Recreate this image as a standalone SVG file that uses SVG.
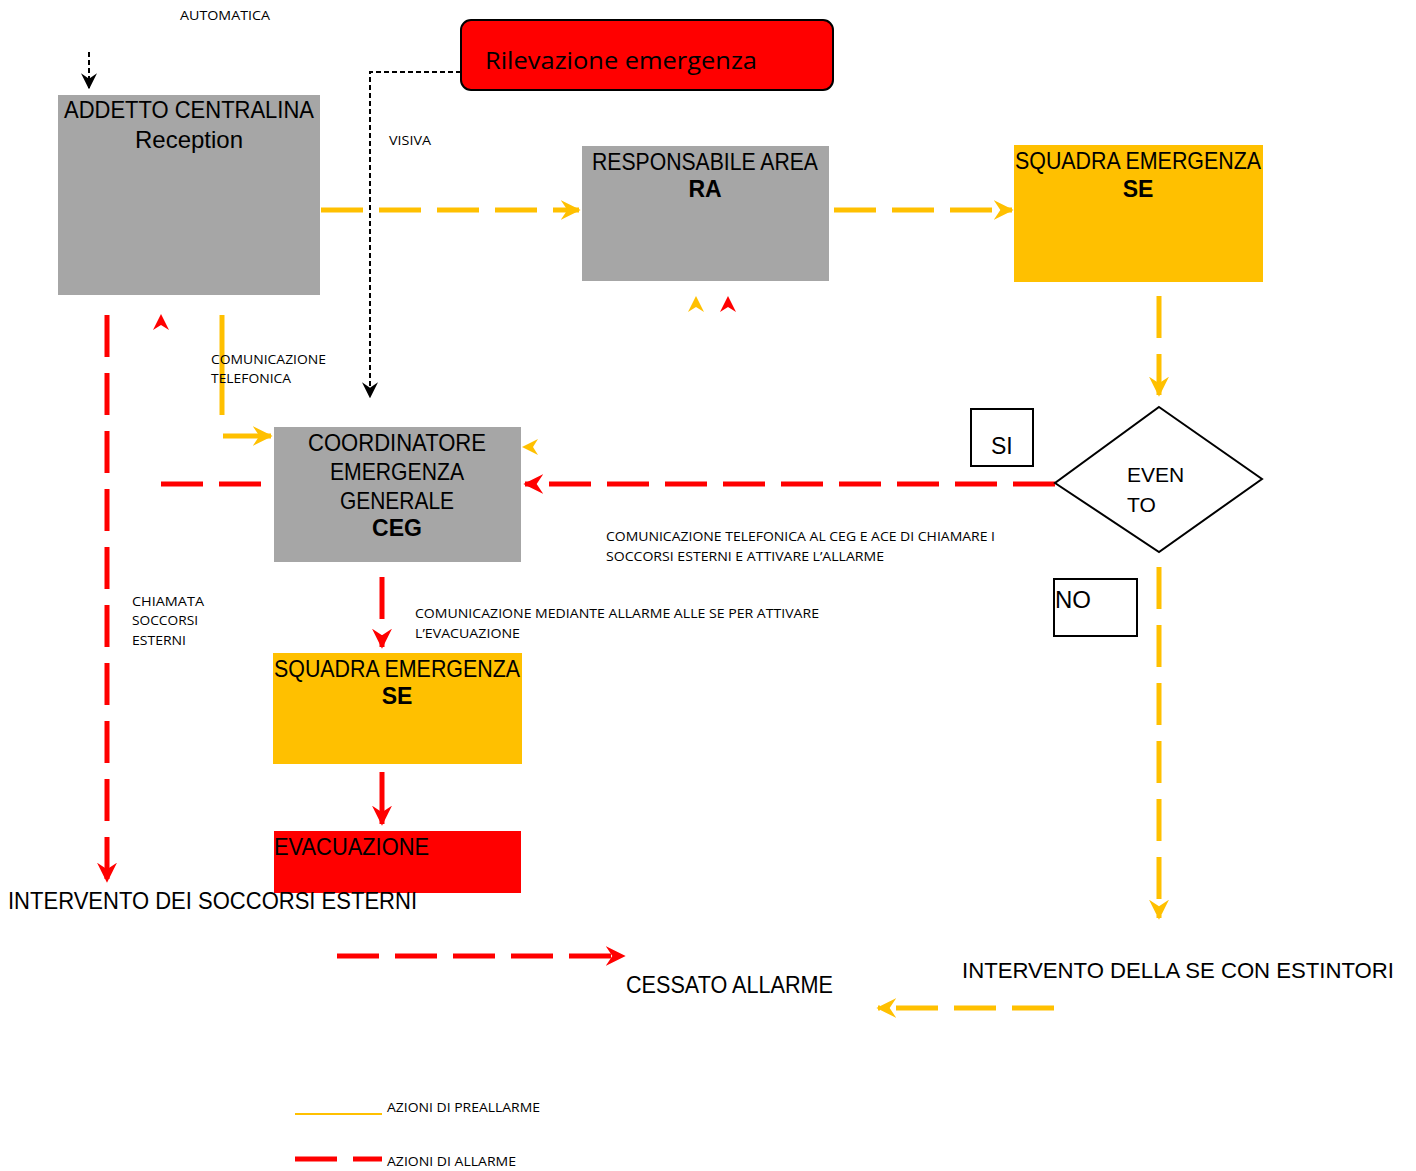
<svg xmlns="http://www.w3.org/2000/svg" width="1416" height="1171" viewBox="0 0 1416 1171">
<defs>
<style>
.big{font-family:"Liberation Sans",Arial,sans-serif;font-size:24px;fill:#000}
.bold{font-family:"Liberation Sans",Arial,sans-serif;font-size:23px;font-weight:bold;fill:#000}
.sm{font-family:"Open Sans","Liberation Sans",sans-serif;font-size:13px;fill:#000}
.y{fill:none;stroke:#ffc000;stroke-width:5;stroke-dasharray:42 16}
.r{fill:none;stroke:#ff0000;stroke-width:5;stroke-dasharray:42 16}
.k{fill:none;stroke:#000;stroke-width:2;stroke-dasharray:5 3}
</style>
<marker id="ay" viewBox="0 0 12 12" refX="11" refY="6" markerWidth="4" markerHeight="4" orient="auto" markerUnits="strokeWidth"><path d="M0,0 L12,6 L0,12 L4,6 z" fill="#ffc000"/></marker>
<marker id="ar" viewBox="0 0 12 12" refX="11" refY="6" markerWidth="4" markerHeight="4" orient="auto" markerUnits="strokeWidth"><path d="M0,0 L12,6 L0,12 L4,6 z" fill="#ff0000"/></marker>
<marker id="ak" viewBox="0 0 12 12" refX="11" refY="6" markerWidth="8" markerHeight="8" orient="auto" markerUnits="strokeWidth"><path d="M0,0 L12,6 L0,12 L4,6 z" fill="#000"/></marker>
</defs>
<rect width="1416" height="1171" fill="#fff"/>

<g id="connectors">
<path class="k" d="M89,52 V88" marker-end="url(#ak)"/>
<path class="k" d="M461,72 H370 V397" marker-end="url(#ak)"/>
<path class="y" d="M321,210 H579" marker-end="url(#ay)"/>
<path class="y" d="M834,210 H1012" marker-end="url(#ay)"/>
<path class="y" d="M1159,296 V395" marker-end="url(#ay)"/>
<path class="y" d="M1159,567 V918" marker-end="url(#ay)"/>
<path class="r" d="M1055,484 H525" marker-end="url(#ar)"/>
<path class="r" d="M161,484 H262"/>
<path class="r" d="M107,315 V881" marker-end="url(#ar)"/>
<path class="r" d="M382,577 V647" marker-end="url(#ar)"/>
<path d="M382,772 V824" fill="none" stroke="#ff0000" stroke-width="5" marker-end="url(#ar)"/>
<path class="r" d="M337,956 H624" marker-end="url(#ar)"/>
<path class="y" d="M1054,1008 H878" marker-end="url(#ay)"/>
<path d="M222,315 V415" fill="none" stroke="#ffc000" stroke-width="5"/>
<path d="M223,436 H271" fill="none" stroke="#ffc000" stroke-width="5" marker-end="url(#ay)"/>
<path d="M161,314 l-8,16 l8,-5 l8,5 z" fill="#ff0000"/>
<path d="M696,296 l-8,16 l8,-5 l8,5 z" fill="#ffc000"/>
<path d="M728,296 l-8,16 l8,-5 l8,5 z" fill="#ff0000"/>
<path d="M522,447 l16,-8 l-5,8 l5,8 z" fill="#ffc000"/>
</g>

<g id="automatica"><text class="sm" x="180" y="20" textLength="90" lengthAdjust="spacingAndGlyphs">AUTOMATICA</text></g>
<g id="visiva"><text class="sm" x="389" y="145" textLength="42" lengthAdjust="spacingAndGlyphs">VISIVA</text></g>

<g id="rilevazione">
<rect x="461" y="20" width="372" height="70" rx="10" fill="#ff0000" stroke="#000" stroke-width="2"/>
<text class="big" x="485" y="69" style="font-family:'Open Sans','Liberation Sans',sans-serif;font-size:24px" textLength="272" lengthAdjust="spacingAndGlyphs">Rilevazione emergenza</text>
</g>

<g id="addetto">
<rect x="58" y="95" width="262" height="200" fill="#a6a6a6"/>
<text class="big" x="189" y="118" text-anchor="middle" textLength="250" lengthAdjust="spacingAndGlyphs">ADDETTO CENTRALINA</text>
<text class="big" x="189" y="148" text-anchor="middle">Reception</text>
</g>

<g id="ra">
<rect x="582" y="146" width="247" height="135" fill="#a6a6a6"/>
<text class="big" x="705" y="170" text-anchor="middle" textLength="226" lengthAdjust="spacingAndGlyphs">RESPONSABILE AREA</text>
<text class="bold" x="705" y="197" text-anchor="middle">RA</text>
</g>

<g id="se1">
<rect x="1014" y="145" width="249" height="137" fill="#ffc000"/>
<text class="big" x="1138" y="169" text-anchor="middle" textLength="246" lengthAdjust="spacingAndGlyphs">SQUADRA EMERGENZA</text>
<text class="bold" x="1138" y="197" text-anchor="middle">SE</text>
</g>

<g id="evento">
<polygon points="1159,407 1262,479 1159,552 1055,483" fill="#fff" stroke="#000" stroke-width="2"/>
<text class="big" x="1127" y="482" style="font-size:21px">EVEN</text>
<text class="big" x="1127" y="512" style="font-size:21px">TO</text>
</g>

<g id="si">
<rect x="971" y="409" width="62" height="57" fill="#fff" stroke="#000" stroke-width="2"/>
<text class="big" x="991" y="454" style="font-size:23px">SI</text>
</g>

<g id="no">
<rect x="1054" y="579" width="83" height="57" fill="#fff" stroke="#000" stroke-width="2"/>
<text class="big" x="1055" y="608" style="font-size:24px">NO</text>
</g>

<g id="ceg">
<rect x="274" y="427" width="247" height="135" fill="#a6a6a6"/>
<text class="big" x="397" y="451" text-anchor="middle" textLength="178" lengthAdjust="spacingAndGlyphs">COORDINATORE</text>
<text class="big" x="397" y="480" text-anchor="middle" textLength="134" lengthAdjust="spacingAndGlyphs">EMERGENZA</text>
<text class="big" x="397" y="509" text-anchor="middle" textLength="114" lengthAdjust="spacingAndGlyphs">GENERALE</text>
<text class="bold" x="397" y="536" text-anchor="middle">CEG</text>
</g>

<g id="lbl-ceg">
<text class="sm" x="606" y="541" textLength="389" lengthAdjust="spacingAndGlyphs">COMUNICAZIONE TELEFONICA AL CEG E ACE DI CHIAMARE I</text>
<text class="sm" x="606" y="561" textLength="278" lengthAdjust="spacingAndGlyphs">SOCCORSI ESTERNI E ATTIVARE L’ALLARME</text>
</g>

<g id="lbl-tel">
<text class="sm" x="211" y="364" textLength="115" lengthAdjust="spacingAndGlyphs">COMUNICAZIONE</text>
<text class="sm" x="211" y="383" textLength="80" lengthAdjust="spacingAndGlyphs">TELEFONICA</text>
</g>

<g id="lbl-chiamata">
<text class="sm" x="132" y="606" textLength="72" lengthAdjust="spacingAndGlyphs">CHIAMATA</text>
<text class="sm" x="132" y="625" textLength="66" lengthAdjust="spacingAndGlyphs">SOCCORSI</text>
<text class="sm" x="132" y="645" textLength="54" lengthAdjust="spacingAndGlyphs">ESTERNI</text>
</g>

<g id="lbl-allarme">
<text class="sm" x="415" y="618" textLength="404" lengthAdjust="spacingAndGlyphs">COMUNICAZIONE MEDIANTE ALLARME ALLE SE PER ATTIVARE</text>
<text class="sm" x="415" y="638" textLength="105" lengthAdjust="spacingAndGlyphs">L’EVACUAZIONE</text>
</g>

<g id="se2">
<rect x="273" y="653" width="249" height="111" fill="#ffc000"/>
<text class="big" x="397" y="677" text-anchor="middle" textLength="246" lengthAdjust="spacingAndGlyphs">SQUADRA EMERGENZA</text>
<text class="bold" x="397" y="704" text-anchor="middle">SE</text>
</g>

<g id="evacuazione">
<rect x="274" y="831" width="247" height="62" fill="#ff0000"/>
<text class="big" x="274" y="855" textLength="155" lengthAdjust="spacingAndGlyphs">EVACUAZIONE</text>
</g>

<g id="soccorsi"><text class="big" x="8" y="909" textLength="409" lengthAdjust="spacingAndGlyphs">INTERVENTO DEI SOCCORSI ESTERNI</text></g>
<g id="cessato"><text class="big" x="626" y="993" textLength="207" lengthAdjust="spacingAndGlyphs">CESSATO ALLARME</text></g>
<g id="estintori"><text class="big" x="962" y="978" style="font-size:22px" textLength="432" lengthAdjust="spacingAndGlyphs">INTERVENTO DELLA SE CON ESTINTORI</text></g>

<g id="legend">
<line x1="295" y1="1114" x2="382" y2="1114" stroke="#ffc000" stroke-width="2"/>
<text class="sm" x="387" y="1112" textLength="153" lengthAdjust="spacingAndGlyphs">AZIONI DI PREALLARME</text>
<line x1="295" y1="1159" x2="382" y2="1159" stroke="#ff0000" stroke-width="5" stroke-dasharray="42 16"/>
<text class="sm" x="387" y="1166" textLength="129" lengthAdjust="spacingAndGlyphs">AZIONI DI ALLARME</text>
</g>
</svg>
